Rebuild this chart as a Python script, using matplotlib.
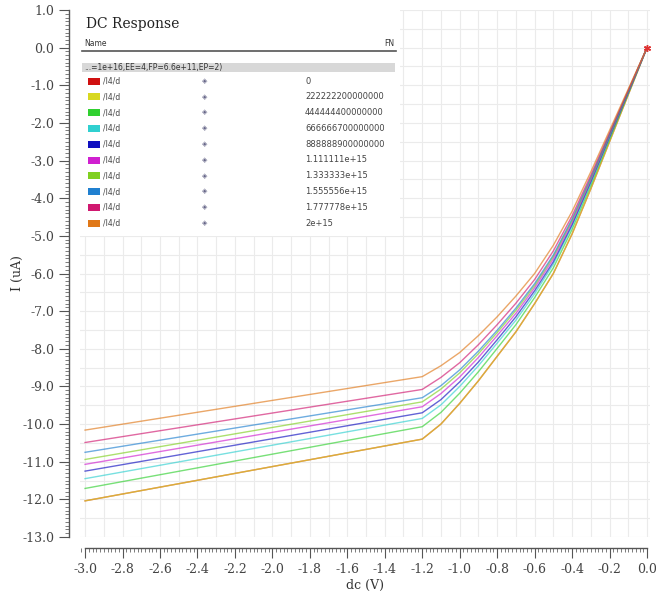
import matplotlib
matplotlib.use("Agg")
import matplotlib.pyplot as plt
from matplotlib.patches import Rectangle
from matplotlib.ticker import MultipleLocator, FormatStrFormatter

plt.rcParams['axes.unicode_minus'] = False

# sweep voltage (V)
dc = [-3.0, -1.2, -1.1, -1.0, -0.9, -0.8, -0.7, -0.6, -0.5, -0.4, -0.3, -0.2, -0.1, 0.0]

# drain current (uA), one list per FN value
i_0      = [-12.04, -10.40, -10.00, -9.45, -8.85, -8.20, -7.55, -6.80, -6.00, -4.95, -3.75, -2.50, -1.25, 0.0]
i_2_22e14 = [-12.04, -10.40, -10.00, -9.45, -8.85, -8.20, -7.55, -6.80, -6.00, -4.95, -3.75, -2.50, -1.25, 0.0]
i_4_44e14 = [-11.71, -10.07, -9.69, -9.18, -8.61, -7.99, -7.36, -6.64, -5.85, -4.83, -3.66, -2.44, -1.22, 0.0]
i_6_67e14 = [-11.45, -9.85, -9.49, -9.00, -8.45, -7.85, -7.24, -6.54, -5.75, -4.75, -3.60, -2.40, -1.20, 0.0]
i_8_89e14 = [-11.25, -9.70, -9.35, -8.88, -8.35, -7.76, -7.15, -6.46, -5.69, -4.70, -3.56, -2.37, -1.19, 0.0]
i_1_11e15 = [-11.07, -9.54, -9.19, -8.75, -8.23, -7.65, -7.06, -6.38, -5.61, -4.64, -3.52, -2.34, -1.17, 0.0]
i_1_33e15 = [-10.94, -9.41, -9.07, -8.64, -8.13, -7.57, -6.98, -6.32, -5.55, -4.59, -3.48, -2.32, -1.16, 0.0]
i_1_56e15 = [-10.75, -9.30, -8.98, -8.56, -8.06, -7.51, -6.92, -6.27, -5.51, -4.55, -3.45, -2.30, -1.15, 0.0]
i_1_78e15 = [-10.49, -9.08, -8.76, -8.37, -7.89, -7.36, -6.79, -6.16, -5.40, -4.47, -3.39, -2.26, -1.13, 0.0]
i_2e15    = [-10.16, -8.74, -8.45, -8.10, -7.65, -7.15, -6.60, -6.00, -5.25, -4.35, -3.30, -2.20, -1.10, 0.0]

curves = [i_0, i_2_22e14, i_4_44e14, i_6_67e14, i_8_89e14,
          i_1_11e15, i_1_33e15, i_1_56e15, i_1_78e15, i_2e15]
fn_labels = ['0', '222222200000000', '444444400000000', '666666700000000',
             '888888900000000', '1.111111e+15', '1.333333e+15', '1.555556e+15',
             '1.777778e+15', '2e+15']
colors = ['#d01010', '#d8d820', '#30d030', '#30d0d0', '#1010c0',
          '#d020d0', '#80d020', '#2080d0', '#d01870', '#e07818']

W, H = 656, 594
fig = plt.figure(figsize=(W / 100, H / 100), dpi=100)
ax = fig.add_axes([80 / W, 1 - 537 / H, 570 / W, 527 / H])

for y, c in zip(curves, colors):
    ax.plot(dc, y, color=c, lw=1.0, alpha=0.65)
ax.plot([0.0], [0.0], marker=(6, 2, 0), color='#e03030', ms=5, mew=1)

ax.set_xlim(-3.027, 0.016)
ax.set_ylim(-13.0, 1.0)

ax.xaxis.set_major_locator(MultipleLocator(0.2))
ax.xaxis.set_minor_locator(MultipleLocator(0.02))
ax.yaxis.set_major_locator(MultipleLocator(1.0))
ax.yaxis.set_minor_locator(MultipleLocator(0.1))
ax.xaxis.set_major_formatter(FormatStrFormatter('%.1f'))
ax.yaxis.set_major_formatter(FormatStrFormatter('%.1f'))

# grid: 0.1 V and 0.5 uA
for gx in [i / 10 for i in range(-30, 1)]:
    ax.axvline(gx, color='#ebebeb', lw=0.8, zorder=0)
for gy in [i / 2 for i in range(-26, 3)]:
    ax.axhline(gy, color='#ebebeb', lw=0.8, zorder=0)

for s in ['top', 'right']:
    ax.spines[s].set_visible(False)
ax.spines['left'].set_position(('outward', 8))
ax.spines['bottom'].set_position(('outward', 8))
ax.spines['left'].set_bounds(-13.0, 1.0)
ax.spines['bottom'].set_bounds(-3.0, 0.0)
for s in ['left', 'bottom']:
    ax.spines[s].set_color('#555555')
    ax.spines[s].set_linewidth(1.0)

ax.tick_params(which='major', direction='out', length=7, width=0.8, color='#555555',
               labelsize=9, labelcolor='#444444')
ax.tick_params(which='minor', direction='out', length=3, width=0.6, color='#666666')
for lab in ax.get_xticklabels() + ax.get_yticklabels():
    lab.set_family('DejaVu Serif')

ax.set_xlabel('dc (V)', fontsize=9, family='DejaVu Serif', color='#333333', labelpad=2)
ax.set_ylabel('I (uA)', fontsize=9, family='DejaVu Serif', color='#333333', labelpad=-1)

# legend panel drawn in pixel coordinates
ov = fig.add_axes([0, 0, 1, 1], zorder=5)
ov.set_xlim(0, W)
ov.set_ylim(H, 0)
ov.axis('off')
ov.add_patch(Rectangle((80, 10), 320, 226, facecolor='white', edgecolor='none'))
ov.text(86, 24, 'DC Response', fontsize=10, family='DejaVu Serif', color='#222222', va='center')
ov.text(84, 43, 'Name', fontsize=5.5, color='#333333', va='center')
ov.text(394, 43, 'FN', fontsize=5.5, color='#333333', va='center', ha='right')
ov.plot([82, 396], [51, 51], color='#555555', lw=1.2)
ov.add_patch(Rectangle((82, 63), 313, 9, facecolor='#d8d8d8', edgecolor='none'))
ov.text(84, 67.5, '...=1e+16,EE=4,FP=6.6e+11,EP=2)', fontsize=5.5, color='#333333', va='center')
for k, (c, lab) in enumerate(zip(colors, fn_labels)):
    yy = 81 + k * 15.8
    ov.add_patch(Rectangle((88, yy - 3.5), 12, 7, facecolor=c, edgecolor='none'))
    ov.text(103, yy, '/I4/d', fontsize=5.5, color='#444444', va='center')
    ov.text(205, yy, '◈', fontsize=5, color='#666688', va='center', ha='center')
    ov.text(305, yy, lab, fontsize=6, color='#444444', va='center')

fig.savefig('out.png', dpi=100)
